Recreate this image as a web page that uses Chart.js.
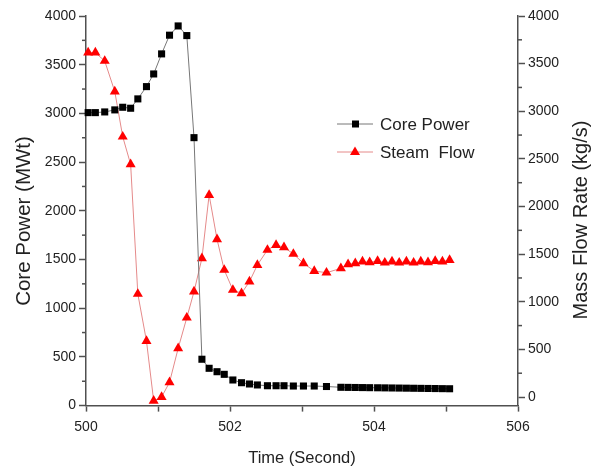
<!DOCTYPE html>
<html lang="en">
<head>
    <meta charset="UTF-8">
    <title>Core Power and Steam Flow</title>
    <script src="https://cdn.jsdelivr.net/npm/chart.js"></script>
    <style>
        html, body { margin: 0; padding: 0; background: #fff; }
        #wrap { position: relative; width: 591px; height: 472px; }
    </style>
</head>
<body>
    <div id="wrap"><canvas id="powerChart"></canvas></div>

    <script>
        // values
        const time = [500.03, 500.13, 500.26, 500.40, 500.51, 500.62, 500.72, 500.84, 500.94, 501.05,
                      501.16, 501.28, 501.40, 501.50, 501.61, 501.71, 501.82, 501.92, 502.04, 502.16,
                      502.27, 502.38, 502.52, 502.64, 502.75, 502.88, 503.02, 503.17, 503.34, 503.54,
                      503.64, 503.74, 503.84, 503.94, 504.05, 504.15, 504.25, 504.35, 504.45, 504.55,
                      504.65, 504.75, 504.85, 504.95, 505.05];
        const corePower = [3008, 3008, 3015, 3036, 3063, 3053, 3149, 3275, 3405, 3611,
                           3803, 3898, 3799, 2751, 476, 383, 348, 321, 263, 235,
                           222, 212, 204, 204, 204, 201, 201, 201, 196, 188,
                           187, 186, 185, 184, 183, 182, 181, 180, 179, 178,
                           177, 176, 175, 174, 173];
        const steamFlow = [3615, 3615, 3528, 3206, 2733, 2443, 1082, 588, -40, 0,
                           154, 511, 833, 1106, 1456, 2121, 1656, 1334, 1124, 1089,
                           1211, 1386, 1544, 1596, 1572, 1502, 1404, 1323, 1305, 1351,
                           1393, 1404, 1421, 1414, 1428, 1410, 1421, 1410, 1421, 1410,
                           1421, 1414, 1428, 1421, 1438];
        const yTicks = [0, 500, 1000, 1500, 2000, 2500, 3000, 3500, 4000];
        const yMinorTicks = [250, 750, 1250, 1750, 2250, 2750, 3250, 3750];

        const FONT = "'Liberation Sans', Arial, sans-serif";
        const AXIS = '#505050';
        const TEXT = '#222';

        // minor ticks, rotated y titles and the in-plot legend
        const extras = {
            id: 'extras',
            afterDraw(chart) {
                const ctx = chart.ctx;
                const y = chart.scales.y, y2 = chart.scales.y2;
                ctx.save();
                ctx.strokeStyle = AXIS;
                ctx.lineWidth = 1.5;
                yMinorTicks.forEach(v => {
                    let p = y.getPixelForValue(v);
                    ctx.beginPath(); ctx.moveTo(y.right - 4, p); ctx.lineTo(y.right, p); ctx.stroke();
                    p = y2.getPixelForValue(v);
                    ctx.beginPath(); ctx.moveTo(y2.left, p); ctx.lineTo(y2.left + 4, p); ctx.stroke();
                });

                ctx.fillStyle = TEXT;
                ctx.textAlign = 'center';
                ctx.textBaseline = 'middle';
                ctx.font = '20.5px ' + FONT;
                ctx.save(); ctx.translate(24, 221); ctx.rotate(-Math.PI / 2);
                ctx.fillText('Core Power (MWt)', 0, 0); ctx.restore();
                ctx.font = '20px ' + FONT;
                ctx.save(); ctx.translate(581, 220); ctx.rotate(-Math.PI / 2);
                ctx.fillText('Mass Flow Rate (kg/s)', 0, 0); ctx.restore();

                // legend
                const rows = [124, 152];
                chart.data.datasets.forEach((ds, i) => {
                    const ly = rows[i];
                    ctx.strokeStyle = ds.borderColor;
                    ctx.lineWidth = 1;
                    ctx.beginPath(); ctx.moveTo(337, ly); ctx.lineTo(373, ly); ctx.stroke();
                    ctx.fillStyle = ds.pointBackgroundColor;
                    ctx.beginPath();
                    if (ds.pointStyle === 'rect') {
                        ctx.rect(352, ly - 3.5, 7, 7);
                    } else {
                        ctx.moveTo(355, ly - 5.5); ctx.lineTo(360, ly + 3); ctx.lineTo(350, ly + 3); ctx.closePath();
                    }
                    ctx.fill();
                    ctx.fillStyle = TEXT;
                    ctx.textAlign = 'left';
                    ctx.font = '17px ' + FONT;
                    ctx.fillText(ds.label, 380, ly + 1);
                });
                ctx.restore();
            }
        };

        const plain = v => String(v);

        const ctx = document.getElementById('powerChart').getContext('2d');
        new Chart(ctx, {
            type: 'line',
            data: {
                datasets: [{
                    label: 'Core Power',
                    data: time.map((t, i) => ({ x: t, y: corePower[i] })),
                    yAxisID: 'y',
                    borderColor: '#777',
                    borderWidth: 1,
                    pointStyle: 'rect',
                    pointRadius: 5,
                    pointBorderWidth: 0,
                    pointBackgroundColor: '#000',
                    clip: false
                }, {
                    label: 'Steam  Flow',
                    data: time.map((t, i) => ({ x: t, y: steamFlow[i] })),
                    yAxisID: 'y2',
                    borderColor: '#e58a8a',
                    borderWidth: 1,
                    pointStyle: 'triangle',
                    pointRadius: 5.8,
                    pointBorderWidth: 0,
                    pointBackgroundColor: '#ff0000',
                    clip: false
                }]
            },
            options: {
                responsive: true,
                maintainAspectRatio: false,
                animation: false,
                layout: { padding: { top: 16, left: 0, right: 0, bottom: 0 } },
                plugins: { legend: { display: false }, tooltip: { enabled: false } },
                scales: {
                    x: {
                        type: 'linear',
                        min: 500,
                        max: 506,
                        afterFit: s => { s.height = 66.4; },
                        border: { display: true, color: AXIS, width: 1.5 },
                        grid: { drawOnChartArea: false, drawTicks: true, tickLength: 6, color: AXIS, tickWidth: 1.5 },
                        ticks: {
                            stepSize: 1,
                            autoSkip: false,
                            maxRotation: 0,
                            padding: 7,
                            color: TEXT,
                            font: { family: FONT, size: 14 },
                            callback: v => (v % 2 === 0 ? String(v) : '')
                        },
                        title: {
                            display: true,
                            text: 'Time (Second)',
                            color: TEXT,
                            font: { family: FONT, size: 16.5 },
                            padding: { top: 0, bottom: 4 }
                        }
                    },
                    y: {
                        position: 'left',
                        min: 0,
                        max: 4000,
                        afterFit: s => { s.width = 86; },
                        afterBuildTicks: s => { s.ticks = yTicks.map(v => ({ value: v })); },
                        border: { display: true, color: AXIS, width: 1.5 },
                        grid: { drawOnChartArea: false, tickLength: 7, color: AXIS, tickWidth: 1.5 },
                        ticks: { padding: 3, color: TEXT, font: { family: FONT, size: 14 }, callback: plain }
                    },
                    y2: {
                        position: 'right',
                        min: -90,
                        max: 4000,
                        afterFit: s => { s.width = 73; },
                        afterBuildTicks: s => { s.ticks = yTicks.map(v => ({ value: v })); },
                        border: { display: true, color: AXIS, width: 1.5 },
                        grid: { drawOnChartArea: false, tickLength: 7, color: AXIS, tickWidth: 1.5 },
                        ticks: { padding: 3, color: TEXT, font: { family: FONT, size: 14 }, callback: plain }
                    }
                }
            },
            plugins: [extras]
        });
    </script>
</body>
</html>
